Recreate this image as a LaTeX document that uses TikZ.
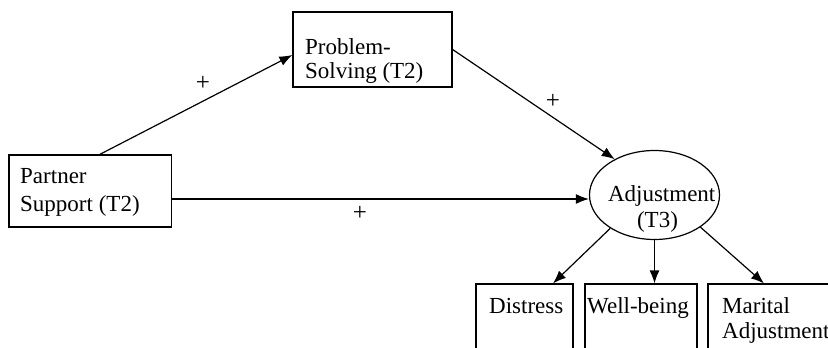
\documentclass[tikz,border=0pt]{standalone}
\usepackage{fontspec}
\setmainfont{Liberation Serif}
\usetikzlibrary{arrows.meta,shapes.geometric}

\tikzset{
  box/.style={draw, line width=1.2pt, rectangle, inner sep=0pt},
  latent/.style={draw, line width=1.2pt, ellipse, inner sep=0pt,
    minimum width=130pt, minimum height=89pt},
  txt/.style={anchor=base west, inner sep=0pt},
  ctxt/.style={anchor=base, inner sep=0pt},
  sign/.style={inner sep=0pt, font=\fontsize{25}{28}\selectfont},
  path/.style={line width=1.2pt, -{Latex[length=13pt,width=10pt]}},
}

\begin{document}
\begin{tikzpicture}[x=1pt, y=-1pt, font=\fontsize{23}{27}\selectfont]
  \useasboundingbox (0,0) rectangle (828,348);
  \clip (0,0) rectangle (828,348);

  % observed variables at T2
  \node[box, minimum width=162.7pt, minimum height=72pt] (partner) at (90.3,191) {};
  \node[txt] (partnerA) at (20,183) {Partner};
  \node[txt] (partnerB) at (20,211) {Support (T2)};

  \node[box, minimum width=159pt, minimum height=75pt] (ps) at (372.5,49.5) {};
  \node[txt] (psA) at (305,54) {Problem-};
  \node[txt] (psB) at (305,78) {Solving (T2)};

  % latent outcome at T3
  \node[latent] (adj) at (654.5,195) {};
  \node[ctxt] (adjA) at (661.7,201.5) {Adjustment};
  \node[ctxt] (adjB) at (657.5,227) {(T3)};

  % indicators (boxes run past the lower edge)
  \node[box, minimum width=97pt, minimum height=96pt] (distress) at (524.5,332) {};
  \node[txt] (distressA) at (489,313) {Distress};

  \node[box, minimum width=112pt, minimum height=96pt] (well) at (641,332) {};
  \node[txt] (wellA) at (587,313) {Well-being};

  \node[box, minimum width=142pt, minimum height=96pt] (marital) at (779,332) {};
  \node[txt] (maritalA) at (722,313) {Marital};
  \node[txt] (maritalB) at (722,338) {Adjustment};

  % structural paths
  \draw[path] ([xshift=9.5pt]partner.north) -- ([yshift=-5.5pt]ps.west);
  \draw[path] (ps.east) -- (adj.138);
  \draw[path] ([yshift=-8pt]partner.east) -- ([yshift=-4pt]adj.west);

  \node[sign] (s1) at (203,83) {+};
  \node[sign] (s2) at (553,101) {+};
  \node[sign] (s3) at (360,213) {+};

  % measurement paths
  \draw[path] (adj.-143.4) -- ([xshift=28.5pt]distress.north);
  \draw[path] (adj.south) -- (adj.south |- well.north);
  \draw[path] (adj.-35) -- ([xshift=-15pt]marital.north);
\end{tikzpicture}
\end{document}
